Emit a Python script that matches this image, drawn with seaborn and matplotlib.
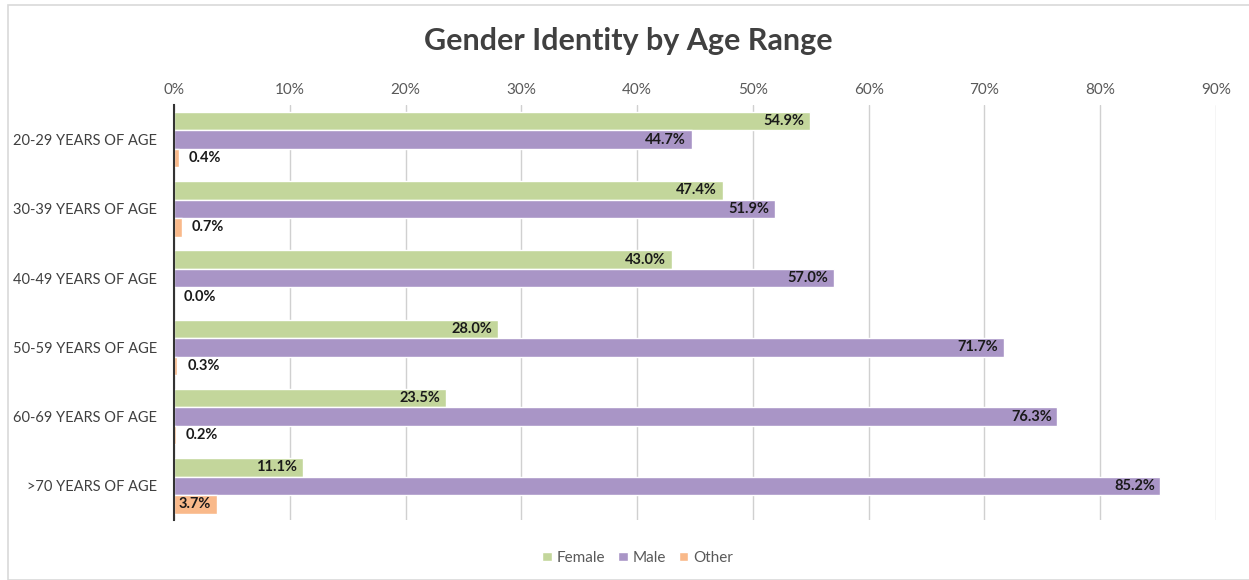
import pandas as pd
import numpy as np
import matplotlib
matplotlib.use('Agg')
import matplotlib.pyplot as plt
import seaborn as sns
from matplotlib.patches import Rectangle

# values (percent)
age_ranges = ['20-29 YEARS OF AGE', '30-39 YEARS OF AGE', '40-49 YEARS OF AGE',
              '50-59 YEARS OF AGE', '60-69 YEARS OF AGE', '>70 YEARS OF AGE']
genders = ['Female', 'Male', 'Other']
female = [54.9, 47.4, 43.0, 28.0, 23.5, 11.1]
male = [44.7, 51.9, 57.0, 71.7, 76.3, 85.2]
other = [0.4, 0.7, 0.0, 0.3, 0.2, 3.7]
colors = ['#c3d69b', '#a995c6', '#f9b98a']

df = pd.DataFrame({
    'age': age_ranges * 3,
    'gender': ['Female'] * 6 + ['Male'] * 6 + ['Other'] * 6,
    'pct': female + male + other,
})

sns.set_style('white')
plt.rcParams['font.family'] = ['Lato', 'DejaVu Sans']

fig = plt.figure(figsize=(12.49, 5.8), dpi=100)
ax = fig.add_axes([0.1393, 0.1026, 0.8343, 0.7164])

sns.barplot(data=df, x='pct', y='age', hue='gender', order=age_ranges, hue_order=genders,
            palette=colors, width=0.8, orient='h', ax=ax, legend=True, saturation=1)

ax.set_xlim(0, 90)
ax.set_ylim(5.5, -0.5)
ax.xaxis.tick_top()
ax.set_xticks(range(0, 91, 10))
ax.set_xticklabels([f'{t}%' for t in range(0, 91, 10)], fontsize=11, color='#595959')
ax.tick_params(axis='x', length=0, pad=6)
ax.tick_params(axis='y', length=0, pad=12, labelsize=10.5, labelcolor='#404040')
ax.set_xlabel('')
ax.set_ylabel('')
ax.grid(axis='x', color='#d0d0d0', linewidth=1)
ax.set_axisbelow(True)
for s in ['top', 'right', 'bottom']:
    ax.spines[s].set_visible(False)
ax.spines['left'].set_color('#333333')
ax.spines['left'].set_linewidth(1.5)

# data labels
for cont, g in zip(ax.containers, genders):
    for bar in cont:
        w = bar.get_width()
        yc = bar.get_y() + bar.get_height() / 2
        txt = f'{w:.1f}%'
        if g == 'Other' and w < 3:
            ax.annotate(txt, (w, yc), xytext=(7, 0), textcoords='offset points',
                        ha='left', va='center', fontsize=10.5, fontweight='bold', color='#1a1a1a')
        else:
            ax.annotate(txt, (w, yc), xytext=(-4, 0), textcoords='offset points',
                        ha='right', va='center', fontsize=10.5, fontweight='bold', color='#1a1a1a')

leg = ax.legend(loc='lower center', bbox_to_anchor=(0.445, -0.14), ncol=3, frameon=False,
                fontsize=11, handlelength=0.6, handleheight=0.6, handletextpad=0.3,
                columnspacing=0.9)
for t in leg.get_texts():
    t.set_color('#595959')

fig.text(0.503, 0.93, 'Gender Identity by Age Range', ha='center', va='center',
         fontsize=22, fontweight='bold', color='#404040')

fig.patches.append(Rectangle((8 / 1249, 0), 1, 1 - 5 / 580, transform=fig.transFigure,
                             fill=False, edgecolor='#d9d9d9', linewidth=1.2))

fig.savefig('out.png', dpi=100)
